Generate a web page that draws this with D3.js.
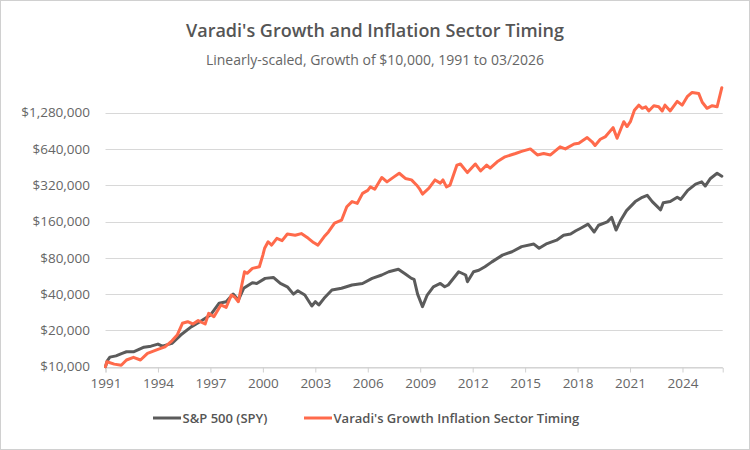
<!DOCTYPE html>
<html>
<head>
<meta charset="utf-8">
<script src="https://cdn.jsdelivr.net/npm/d3@7.9.0/dist/d3.min.js"></script>
<style>
  body { margin: 0; background: #fff; }
  svg { display: block; font-family: "Open Sans", sans-serif; }
</style>
</head>
<body>
<svg id="chart" width="750" height="450"></svg>
<script>
// values, [decimal year, dollars]
const spyData = [
  [1991.0, 10000], [1991.1, 11200], [1991.25, 12000], [1991.6, 12300], [1991.95, 12900],
  [1992.2, 13300], [1992.6, 13300], [1993.2, 14500], [1993.6, 14800], [1994.0, 15400],
  [1994.25, 14800], [1994.8, 15600], [1995.3, 18300], [1995.9, 21400], [1996.4, 23600],
  [1997.0, 26800], [1997.5, 33600], [1997.9, 34600], [1998.3, 40000], [1998.6, 35700],
  [1998.9, 44700], [1999.4, 49700], [1999.65, 49000], [2000.13, 54000], [2000.6, 55000],
  [2001.0, 49000], [2001.4, 46000], [2001.75, 40000], [2002.0, 42600], [2002.4, 39300],
  [2002.8, 31900], [2003.0, 34600], [2003.2, 32500], [2003.5, 36900], [2003.95, 43200],
  [2004.5, 44700], [2005.1, 47600], [2005.7, 49000], [2006.25, 54000], [2006.8, 57600],
  [2007.2, 61300], [2007.75, 64200], [2008.15, 58700], [2008.5, 54000], [2008.65, 53000],
  [2008.85, 40000], [2009.13, 31500], [2009.4, 39300], [2009.75, 46000], [2010.15, 49000],
  [2010.4, 46000], [2010.6, 47600], [2011.2, 61300], [2011.6, 57600], [2011.7, 50700],
  [2012.05, 61300], [2012.35, 63000], [2012.7, 67400], [2013.1, 74000], [2013.7, 84200],
  [2014.25, 89800], [2014.8, 99000], [2015.5, 104000], [2015.8, 96000], [2016.25, 105000],
  [2016.8, 112000], [2017.2, 123000], [2017.6, 126000], [2017.9, 134000], [2018.15, 140000],
  [2018.6, 152000], [2018.95, 131000], [2019.2, 149000], [2019.7, 159000], [2019.95, 173000],
  [2020.2, 136000], [2020.45, 162000], [2020.8, 197000], [2021.3, 234000], [2021.7, 254000],
  [2021.98, 264000], [2022.27, 234000], [2022.75, 200000], [2022.9, 229000], [2023.3, 234000],
  [2023.7, 254000], [2023.9, 244000], [2024.3, 290000], [2024.75, 327000], [2025.1, 341000],
  [2025.3, 315000], [2025.6, 364000], [2025.98, 402000], [2026.25, 380000]
];

const varadiData = [
  [1991.0, 10000], [1991.08, 11000], [1991.5, 10500], [1991.9, 10270], [1992.2, 11370],
  [1992.6, 11970], [1993.0, 11370], [1993.4, 12900], [1994.0, 13940], [1994.4, 14600],
  [1994.8, 16400], [1995.1, 18300], [1995.4, 22900], [1995.7, 23600], [1996.0, 22600],
  [1996.3, 24100], [1996.7, 22600], [1996.9, 27700], [1997.2, 26000], [1997.6, 32500],
  [1997.9, 31000], [1998.2, 39300], [1998.4, 37600], [1998.6, 34600], [1998.95, 61300],
  [1999.1, 59500], [1999.4, 65400], [1999.8, 67400], [2000.0, 84200], [2000.1, 96000],
  [2000.3, 108700], [2000.5, 102000], [2000.8, 116000], [2001.1, 111000], [2001.4, 126000],
  [2001.85, 123000], [2002.2, 127000], [2002.6, 116000], [2002.9, 107000], [2003.15, 102000],
  [2003.5, 119500], [2003.75, 131000], [2004.1, 155000], [2004.5, 164000], [2004.8, 212000],
  [2005.1, 234000], [2005.4, 226000], [2005.7, 274000], [2006.0, 290000], [2006.15, 310000],
  [2006.4, 296000], [2006.8, 371000], [2007.1, 341000], [2007.5, 375000], [2007.8, 402000],
  [2008.15, 364000], [2008.5, 354000], [2008.8, 320000], [2008.95, 300000], [2009.13, 270000],
  [2009.5, 302000], [2009.85, 354000], [2010.15, 333000], [2010.3, 354000], [2010.5, 310000],
  [2010.7, 320000], [2011.1, 470000], [2011.3, 480000], [2011.7, 407000], [2012.15, 480000],
  [2012.45, 420000], [2012.8, 470000], [2013.0, 443000], [2013.4, 500000], [2013.85, 550000],
  [2014.45, 586000], [2014.8, 610000], [2015.3, 640000], [2015.7, 570000], [2016.06, 586000],
  [2016.45, 570000], [2017.0, 666000], [2017.3, 640000], [2017.8, 702000], [2018.07, 713000],
  [2018.55, 794000], [2018.83, 733000], [2019.0, 683000], [2019.3, 770000], [2019.6, 810000],
  [2020.03, 961000], [2020.26, 784000], [2020.64, 1076000], [2020.83, 981000], [2021.02, 1076000],
  [2021.25, 1340000], [2021.5, 1475000], [2021.7, 1390000], [2021.9, 1430000], [2022.07, 1320000],
  [2022.36, 1460000], [2022.64, 1430000], [2022.84, 1320000], [2023.0, 1475000], [2023.3, 1320000],
  [2023.7, 1585000], [2023.98, 1475000], [2024.27, 1735000], [2024.55, 1880000], [2024.93, 1840000],
  [2025.13, 1560000], [2025.4, 1390000], [2025.7, 1460000], [2025.98, 1430000], [2026.25, 2060000]
];

const xTicks = [1991, 1994, 1997, 2000, 2003, 2006, 2009, 2012, 2015, 2018, 2021, 2024];
const yTicks = [10000, 20000, 40000, 80000, 160000, 320000, 640000, 1280000];
const seriesNames = ["S&P 500 (SPY)", "Varadi's Growth Inflation Sector Timing"];
const seriesColors = ["#5b5b5b", "#ff6a4b"];

const svg = d3.select("#chart");
const plotLeft = 105.5, plotRight = 722.7, plotBottom = 366.7, plotTop = 76.3;

svg.append("rect")
  .attr("x", 0.5).attr("y", 0.5).attr("width", 749).attr("height", 449)
  .attr("fill", "#fff").attr("stroke", "#d0d0d0");

const x = d3.scaleLinear().domain([1991, 2026.3]).range([plotLeft, plotRight]);
const y = d3.scaleLog().domain([10000, 2560000]).range([plotBottom, plotTop]);

svg.append("text")
  .attr("x", 375).attr("y", 37)
  .attr("text-anchor", "middle")
  .attr("font-size", 18).attr("font-weight", 600).attr("fill", "#555")
  .text("Varadi's Growth and Inflation Sector Timing");

svg.append("text")
  .attr("x", 375).attr("y", 64.5)
  .attr("text-anchor", "middle")
  .attr("font-size", 14).attr("fill", "#666")
  .text("Linearly-scaled, Growth of $10,000, 1991 to 03/2026");

// grid + y labels
const fmt = d3.format("$,");
yTicks.forEach((t) => {
  svg.append("line")
    .attr("x1", plotLeft).attr("x2", plotRight)
    .attr("y1", Math.round(y(t)) + 0.5).attr("y2", Math.round(y(t)) + 0.5)
    .attr("stroke", "#d8d8d8");
  svg.append("text")
    .attr("x", 90).attr("y", y(t))
    .attr("dy", "0.35em")
    .attr("text-anchor", "end")
    .attr("font-size", 13.5).attr("fill", "#666")
    .text(fmt(t));
});

// x axis
const xAxis = svg.append("g")
  .attr("transform", `translate(0,${Math.round(plotBottom) + 0.5})`)
  .call(d3.axisBottom(x).tickValues(xTicks).tickFormat(d3.format("d")).tickSize(5).tickPadding(6));
xAxis.attr("font-family", null);
xAxis.select(".domain").attr("stroke", "#d0d0d0");
xAxis.selectAll(".tick line").attr("stroke", "#d0d0d0");
xAxis.selectAll(".tick text")
  .attr("font-size", 13.5).attr("fill", "#666");

const line = d3.line()
  .x((d) => x(d[0]))
  .y((d) => y(d[1]));

[spyData, varadiData].forEach((data, i) => {
  svg.append("path")
    .datum(data)
    .attr("d", line)
    .attr("fill", "none")
    .attr("stroke", seriesColors[i])
    .attr("stroke-width", 3)
    .attr("stroke-linejoin", "round")
    .attr("stroke-linecap", "round");
});

// legend
const legendY = 418;
const legendX = [153, 304];
seriesNames.forEach((name, i) => {
  svg.append("line")
    .attr("x1", legendX[i]).attr("x2", legendX[i] + 28)
    .attr("y1", legendY).attr("y2", legendY)
    .attr("stroke", seriesColors[i]).attr("stroke-width", 3);
  svg.append("text")
    .attr("x", legendX[i] + 29.5).attr("y", legendY)
    .attr("dy", "0.35em")
    .attr("font-size", 13).attr("font-weight", 600).attr("fill", "#555")
    .text(name);
});
</script>
</body>
</html>
